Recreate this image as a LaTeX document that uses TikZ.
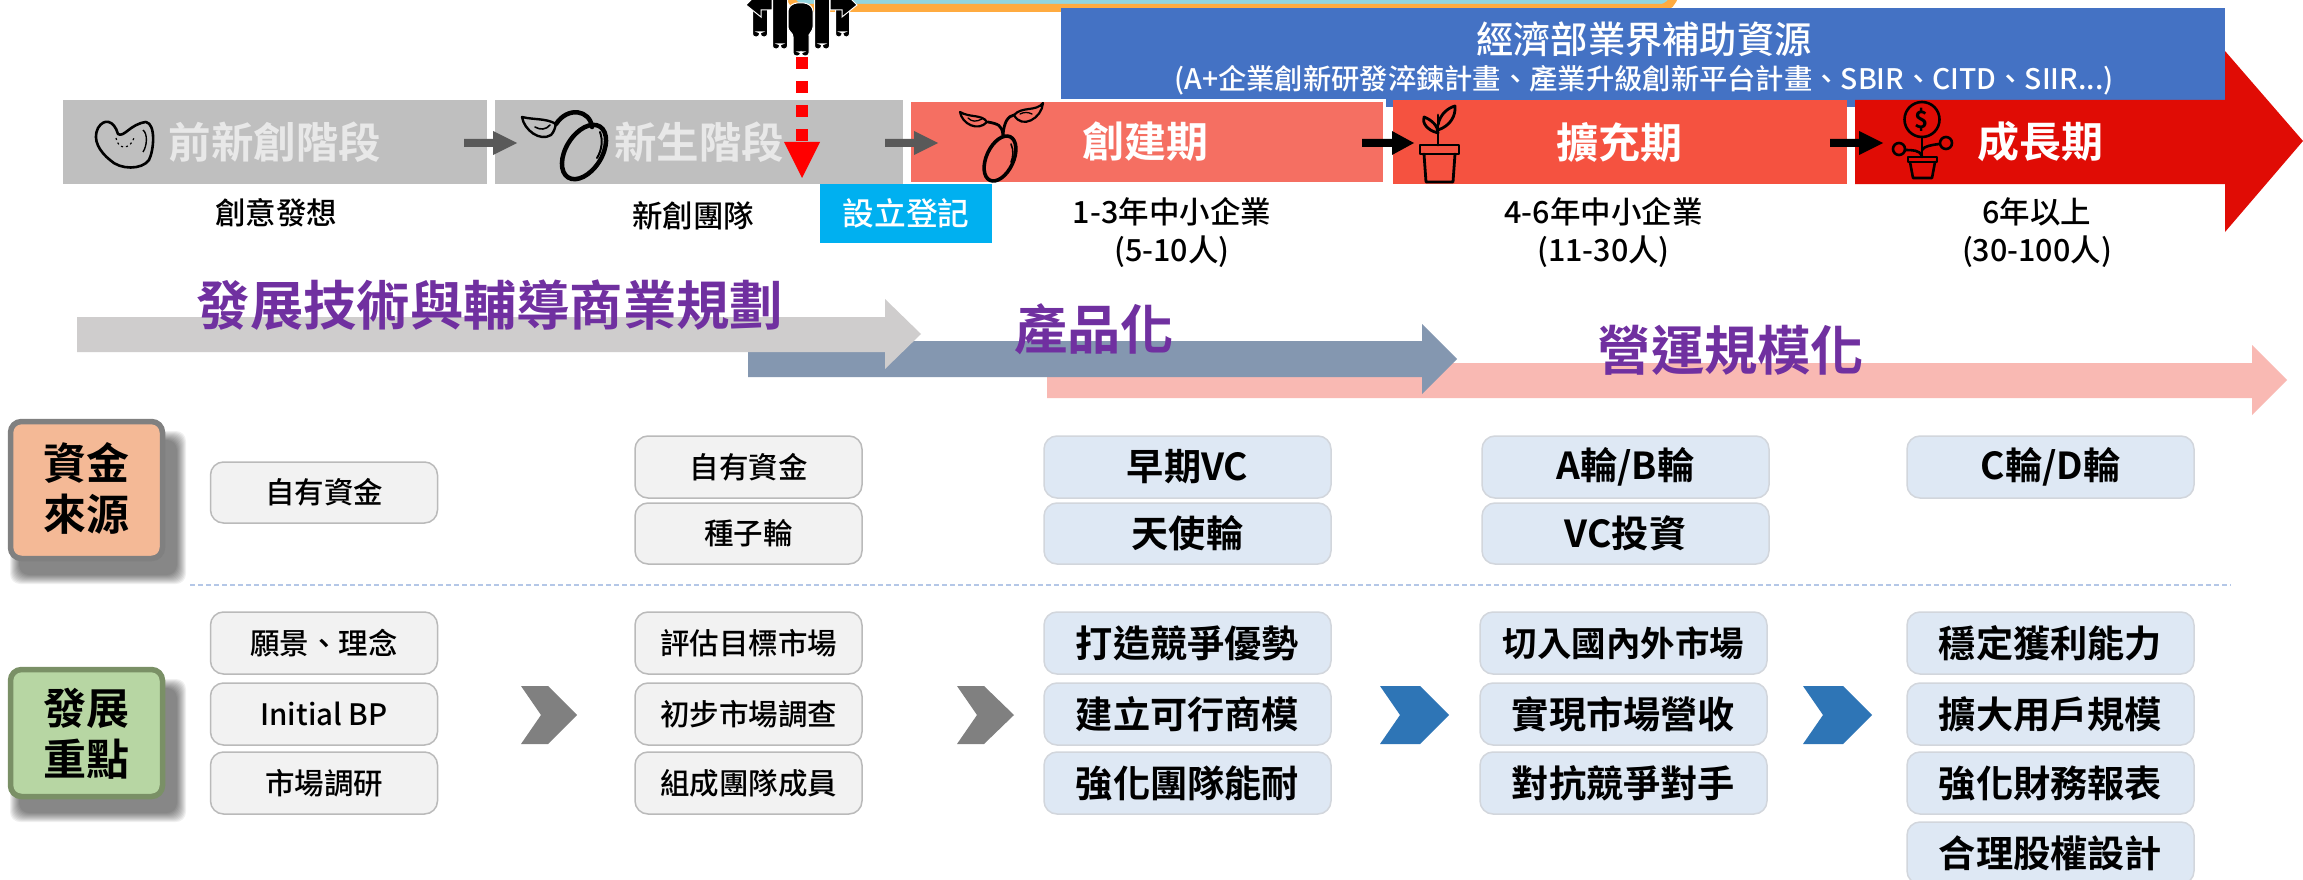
\documentclass[tikz,border=0pt]{standalone}
\usepackage{fontspec}
\setmainfont[BoldFont=* Bold]{Noto Sans CJK TC}
\newfontfamily\medf[UprightFont=* Medium]{Noto Sans CJK TC}
\definecolor{grayA}{HTML}{BFBFBF}
\definecolor{redA}{HTML}{F56F62}
\definecolor{redB}{HTML}{F55240}
\definecolor{redC}{HTML}{E00C05}
\definecolor{blueA}{HTML}{4472C4}
\definecolor{cyanA}{HTML}{00B0F0}
\definecolor{purp}{HTML}{7030A0}
\definecolor{barA}{HTML}{CFCDCD}
\definecolor{barB}{HTML}{8497B0}
\definecolor{barC}{HTML}{F9B9B3}
\definecolor{orgA}{HTML}{FFAB40}
\definecolor{tealA}{HTML}{92D5DF}
\definecolor{chipB}{HTML}{DEE8F4}
\definecolor{chipBline}{HTML}{D2D6DC}
\definecolor{catO}{HTML}{F4B996}
\definecolor{catG}{HTML}{B7D6A3}
\definecolor{catGline}{HTML}{7A9066}
\definecolor{chevB}{HTML}{2E75B6}
\definecolor{sepC}{HTML}{B4C7E7}
\definecolor{stageT}{HTML}{E8E8E8}
\tikzset{
  x=1pt,y=-1pt,
  lbl/.style={inner sep=0pt,align=center},
  stage/.style={lbl,font=\fontsize{42}{42}\selectfont\bfseries,text=white},
  stagegray/.style={lbl,font=\fontsize{42.5}{42}\selectfont\bfseries,text=stageT},
  sub/.style={lbl,font=\fontsize{30.5}{38}\selectfont\medf,text=black},
  headtxt/.style={lbl,font=\fontsize{53.3}{53}\selectfont\bfseries,text=purp},
  cat/.style={lbl,font=\fontsize{43}{51}\selectfont\bfseries,text=black},
  chip/.style={rounded corners=13pt,line width=1.5pt},
  chipgray/.style={chip,fill=black!5,draw=black!27},
  chipblue/.style={chip,fill=chipB,draw=chipBline},
  smalltxt/.style={lbl,font=\fontsize{29.5}{30}\selectfont\medf},
  bigtxt/.style={lbl,font=\fontsize{37.2}{37}\selectfont\bfseries},
  icon/.style={draw=black,line width=3pt,line cap=round,line join=round},
}
\newcommand{\chipbox}[7]{% style, name, x0, y0, x1, y1, text-style and text
  \draw[#1] (#3,#4) rectangle (#5,#6);
  \node[#7] (#2) at ({(#3+#5)/2},{(#4+#6)/2}) }
\newcommand{\personfig}[3]{%
  \fill[black,draw=white,line width=1pt,rounded corners=3pt]
    (#1-#2,-6) -- (#1+#2,-6) -- (#1+#2,#3) -- (#1+0.5,#3) -- (#1+0.5,#3-5) -- (#1-0.5,#3-5) -- (#1-0.5,#3) -- (#1-#2,#3) -- cycle;}
\newcommand{\chevron}[5]{% x0,x-shoulder,x-notch,xtip,colour
  \fill[#5] (#1,686) -- (#2,686) -- (#4,715) -- (#2,744) -- (#1,744) -- (#3,715) -- cycle;}
\begin{document}
\begin{tikzpicture}
\useasboundingbox (0,0) rectangle (2303,880);
\clip (0,0) rectangle (2303,880);
\fill[white] (0,0) rectangle (2303,880);

% top rounded bar
\draw[fill=tealA,draw=orgA,line width=8pt,rounded corners=14pt] (790,-30) rectangle (1674,8);

% blue band
\fill[blueA] (1061,8) rectangle (2225,107);

% stage boxes
\fill[grayA] (63,100) rectangle (487,184);
\fill[grayA] (495,100) rectangle (903,184);
\fill[redC] (1855,100) -- (2225,100) -- (2225,51) -- (2303,141) -- (2225,232) -- (2225,184) -- (1855,184) -- cycle;
\fill[redB] (1393,100) rectangle (1847,184);
\fill[white] (1061,99) rectangle (1386,184);
\fill[white] (905,100) rectangle (1061,184);
\fill[redA] (911,102) rectangle (1383,182);

% small block arrows
\fill[black!65] (464,139) -- (493,139) -- (493,131) -- (517,143) -- (493,155) -- (493,147) -- (464,147) -- cycle;
\fill[black!65] (885,139) -- (914,139) -- (914,131) -- (938,143) -- (914,155) -- (914,147) -- (885,147) -- cycle;
\fill[black] (1362,139) -- (1392,139) -- (1392,131) -- (1414,143) -- (1392,155) -- (1392,147) -- (1362,147) -- cycle;
\fill[black] (1830,139) -- (1859,139) -- (1859,131) -- (1883,143) -- (1859,155) -- (1859,147) -- (1830,147) -- cycle;

% bean icon
\draw[black,line width=2.6pt,line join=round] (98,128) .. controls (104,118) and (114,120) .. (118,134)
  .. controls (124,138) and (130,124) .. (146,122) .. controls (156,124) and (154,150) .. (149,160)
  .. controls (142,170) and (120,170) .. (110,160) .. controls (100,152) and (92,140) .. (98,128) -- cycle;
\draw[black,line width=1.4pt] (143,130) .. controls (148,134) and (147,146) .. (143,152);
\draw[black,line width=1.2pt,dash pattern=on 2pt off 3pt] (116,138) .. controls (118,150) and (130,150) .. (134,138);

% sprout icon (grey stage)
\begin{scope}[icon]
  \draw[line width=4.5pt,rotate around={-32:(584,152)}] (584,152) ellipse [x radius=18pt,y radius=30pt];
  \draw[line width=2pt] (600,132) .. controls (603,140) and (602,150) .. (597,158);
  \draw[line width=4.5pt] (592,127) .. controls (590,110) and (568,106) .. (556,124);
  \draw[line width=2.4pt] (556,124) .. controls (546,118) and (534,120) .. (522,117)
    .. controls (524,130) and (540,142) .. (551,135) .. controls (554,132) and (555,128) .. (556,124) -- cycle;
  \draw[line width=1.6pt] (535,127) .. controls (540,130) and (546,130) .. (550,125);
\end{scope}

% sprout icon (red stage)
\begin{scope}[icon]
  \draw[line width=3.6pt,rotate around={-25:(1000,158.5)}] (1000,158.5) ellipse [x radius=13.5pt,y radius=24pt];
  \draw[line width=1.6pt] (1011,144) .. controls (1014,150) and (1013,158) .. (1011,162);
  \draw[line width=2.8pt] (1003,135) .. controls (1002,125) and (998,124) .. (988,122);
  \draw[line width=2.8pt] (1003,135) .. controls (1004,122) and (1008,116) .. (1014,115);
  \draw[line width=2.2pt] (987,122) .. controls (982,114) and (970,118) .. (960,112)
    .. controls (962,124) and (978,132) .. (987,122) -- cycle;
  \draw[line width=2.2pt] (1014,115) .. controls (1022,106) and (1036,112) .. (1043,103)
    .. controls (1042,118) and (1022,130) .. (1014,115) -- cycle;
  \draw[line width=1.3pt] (968,118) .. controls (972,122) and (976,122) .. (982,119);
  \draw[line width=1.3pt] (1020,114) .. controls (1024,112) and (1028,112) .. (1032,114);
\end{scope}

% pot icon
\begin{scope}[icon,line width=2.8pt]
  \draw (1438,145) -- (1438,115);
  \draw (1438,125) .. controls (1440,114) and (1448,108) .. (1455,106) .. controls (1456,116) and (1450,126) .. (1438,130);
  \draw (1438,133) .. controls (1426,130) and (1422,122) .. (1424,117) .. controls (1432,120) and (1438,126) .. (1438,133);
  \draw (1420,145) rectangle (1459,154);
  \draw (1424,154) -- (1426,182) -- (1453,182) -- (1455,154);
\end{scope}

% money plant icon
\begin{scope}[icon,line width=2.6pt]
  \draw (1922,119.5) circle [radius=17.5pt];
  \draw (1922,137) -- (1922,157);
  \draw (1922,156) .. controls (1920,150) and (1912,150) .. (1905,150);
  \draw (1922,150) .. controls (1924,146) and (1932,145) .. (1939,144);
  \draw (1899,149) circle [radius=6pt];
  \draw (1946,143) circle [radius=6pt];
  \draw (1908,157) rectangle (1937,162);
  \draw (1910,162) -- (1913,178) -- (1932,178) -- (1935,162);
\end{scope}
\node[lbl,font=\fontsize{24}{24}\selectfont\bfseries] (dollar) at (1922,119.5) {\$};

% stage labels
\node[stagegray] (s1) at (275,142) {前新創階段};
\node[stagegray] (s2) at (699,142) {新生階段};
\node[stage] (s3) at (1145,142) {創建期};
\node[stage] (s4) at (1619,142) {擴充期};
\node[stage] (s5) at (2040,142) {成長期};

% blue band text
\node[lbl,font=\fontsize{37.3}{37}\selectfont\medf,text=white] (b1) at (1644,39) {經濟部業界補助資源};
\node[lbl,font=\fontsize{28.3}{28}\selectfont\medf,text=white] (b2) at (1644,80) {(A+企業創新研發淬鍊計畫、產業升級創新平台計畫、SBIR、CITD、SIIR...)};

% people icon
\personfig{760}{7.5}{37}
\personfig{842.5}{7}{37}
\fill[black,draw=white,line width=1pt] (746,5) -- (757,-6) -- (772,-6) -- (772,10) -- (761,10) -- (761,17) -- cycle;
\fill[black,draw=white,line width=1pt] (857,5) -- (846,-6) -- (830,-6) -- (830,10) -- (842,10) -- (842,17) -- cycle;
\personfig{780}{7.5}{49}
\personfig{822}{7.5}{49}
\fill[black,draw=white,line width=1pt,rounded corners=3pt]
  (788,8) -- (794,3) -- (807,3) -- (813,8) -- (813,30) -- (809,34) -- (809,56) -- (801.5,56) -- (801.5,52) -- (800.5,52) -- (800.5,56) -- (793,56) -- (793,34) -- (788,30) -- cycle;

% red dashed arrow
\coordinate (dashtop) at (802,57);
\coordinate (dashend) at (802,142);
\draw[red,line width=12pt,dash pattern=on 12pt off 12pt] (dashtop) -- (dashend);
\fill[red] (784,142) -- (820,142) -- (802,178) -- cycle;

% registration box
\node[fill=cyanA,text=white,inner sep=0pt,minimum width=172pt,minimum height=59pt,font=\fontsize{31.7}{32}\selectfont\medf] (reg) at (906,213.5) {設立登記};

% sub labels
\node[sub] (l1) at (276,213) {創意發想};
\node[sub] (l2) at (693,216) {新創團隊};
\node[sub] (l3) at (1172,233) {1-3年中小企業\\(5-10人)};
\node[sub] (l4) at (1603.5,233) {4-6年中小企業\\(11-30人)};
\node[sub] (l5) at (2037,233) {6年以上\\(30-100人)};

% phase arrows
\fill[barC] (1047,363) -- (2252,363) -- (2252,345) -- (2287,380) -- (2252,415) -- (2252,398) -- (1047,398) -- cycle;
\fill[barB] (748,341) -- (1422,341) -- (1422,324) -- (1457,359) -- (1422,394) -- (1422,377) -- (748,377) -- cycle;
\fill[barA] (77,317) -- (885,317) -- (885,299) -- (921,334) -- (885,369) -- (885,352) -- (77,352) -- cycle;
\node[headtxt] (h1) at (490,305) {發展技術與輔導商業規劃};
\node[headtxt] (h2) at (1094,329) {產品化};
\node[headtxt] (h3) at (1731,350) {營運規模化};

% dashed separator
\coordinate (sepL) at (190,585);
\coordinate (sepR) at (2231,585);
\draw[draw=sepC,line width=2pt,dash pattern=on 5pt off 3pt] (sepL) -- (sepR);

% category boxes
\foreach \i in {0,...,9}{
  \fill[black,opacity=0.06,rounded corners=10pt] (10+\i,431+\i) rectangle (186-\i,584-\i);
  \fill[black,opacity=0.06,rounded corners=10pt] (10+\i,679+\i) rectangle (186-\i,822-\i);
}
\draw[fill=catO,draw=black!50,line width=5.5pt,rounded corners=11pt] (10.5,421.5) rectangle (162.5,558.5);
\node[cat] (c1) at (86,488.5) {資金\\來源};
\draw[fill=catG,draw=catGline,line width=5.5pt,rounded corners=11pt] (10.5,669.5) rectangle (162.5,796.5);
\node[cat] (c2) at (86,734) {發展\\重點};

% chevrons
\chevron{521}{548}{541}{577}{black!50}
\chevron{957}{984}{977}{1014}{black!50}
\chevron{1380}{1420}{1400}{1449}{chevB}
\chevron{1803}{1843}{1823}{1872}{chevB}

% chips: funding
\chipbox{chipgray}{f1}{210.5}{462}{437.5}{523}{smalltxt}{自有資金};
\chipbox{chipgray}{f2}{635}{436}{862}{498}{smalltxt}{自有資金};
\chipbox{chipgray}{f3}{635}{503}{862}{564}{smalltxt}{種子輪};
\chipbox{chipblue}{f4}{1044}{436}{1331}{498}{bigtxt}{早期VC};
\chipbox{chipblue}{f5}{1044}{503}{1331}{564}{bigtxt}{天使輪};
\chipbox{chipblue}{f6}{1482}{436}{1769}{498}{bigtxt}{A輪/B輪};
\chipbox{chipblue}{f7}{1482}{503}{1769}{564}{bigtxt}{VC投資};
\chipbox{chipblue}{f8}{1907}{436}{2194}{498}{bigtxt}{C輪/D輪};

% chips: focus
\chipbox{chipgray}{k1}{210.5}{612}{437.5}{674}{smalltxt}{願景、理念};
\chipbox{chipgray}{k2}{210.5}{683}{437.5}{745}{smalltxt}{Initial BP};
\chipbox{chipgray}{k3}{210.5}{752}{437.5}{814}{smalltxt}{市場調研};
\chipbox{chipgray}{k4}{635}{612}{862}{674}{smalltxt}{評估目標市場};
\chipbox{chipgray}{k5}{635}{683}{862}{745}{smalltxt}{初步市場調查};
\chipbox{chipgray}{k6}{635}{752}{862}{814}{smalltxt}{組成團隊成員};
\chipbox{chipblue}{k7}{1044}{612}{1331}{674}{bigtxt}{打造競爭優勢};
\chipbox{chipblue}{k8}{1044}{683}{1331}{745}{bigtxt}{建立可行商模};
\chipbox{chipblue}{k9}{1044}{752}{1331}{814}{bigtxt}{強化團隊能耐};
\chipbox{chipblue}{k10}{1480}{612}{1767}{674}{bigtxt,font=\fontsize{34.5}{34}\selectfont\bfseries}{切入國內外市場};
\chipbox{chipblue}{k11}{1480}{683}{1767}{745}{bigtxt}{實現市場營收};
\chipbox{chipblue}{k12}{1480}{752}{1767}{814}{bigtxt}{對抗競爭對手};
\chipbox{chipblue}{k13}{1907}{612}{2194}{674}{bigtxt}{穩定獲利能力};
\chipbox{chipblue}{k14}{1907}{683}{2194}{745}{bigtxt}{擴大用戶規模};
\chipbox{chipblue}{k15}{1907}{752}{2194}{814}{bigtxt}{強化財務報表};
\chipbox{chipblue}{k16}{1907}{822}{2194}{884}{bigtxt}{合理股權設計};
\end{tikzpicture}
\end{document}
